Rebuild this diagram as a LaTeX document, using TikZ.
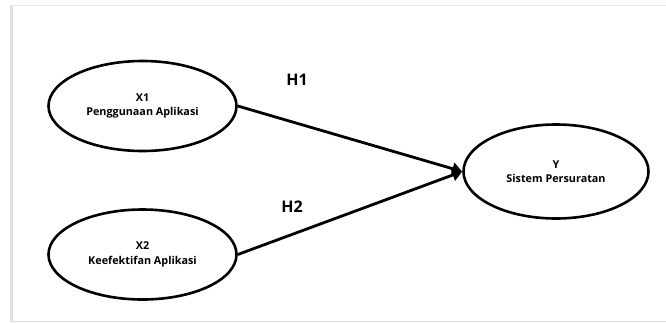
\documentclass[tikz,border=0pt]{standalone}
\usepackage{fontspec}
\setmainfont{Open Sans}
\usetikzlibrary{shapes.geometric,arrows.meta}

\begin{document}
\begin{tikzpicture}[x=1pt,y=-1pt,
    var/.style={draw,ellipse,line width=2.6pt,minimum width=188pt,minimum height=90pt,
      inner sep=0pt,align=center,font=\fontsize{10.8}{14.5}\selectfont\bfseries},
    hyp/.style={font=\fontsize{16}{18}\selectfont\bfseries},
    link/.style={line width=2.8pt,-{Triangle[length=10pt,width=12pt]}}]
  \useasboundingbox (0,0) rectangle (666,322);
  % frame
  \draw[black!12,line width=3pt] (11,5) -- (11,322);
  \draw[black!10,line width=1pt] (13,5) -- (666,5);
  \draw[black!12,line width=1pt] (13,321) -- (666,321);
  % variables
  \node[var] (X1) at (142.5,106) {X1\\Penggunaan Aplikasi};
  \node[var] (X2) at (142.5,254.5) {X2\\Keefektifan Aplikasi};
  \node[var,minimum width=185pt,minimum height=94pt] (Y) at (556,171.5) {Y\\Sistem Persuratan};
  % hypotheses
  \node[hyp] (H1) at (297,80) {H1};
  \node[hyp] (H2) at (292,207) {H2};
  \draw[link] (X1.east) -- (Y.west);
  \draw[link] (X2.east) -- (Y.west);
\end{tikzpicture}
\end{document}
